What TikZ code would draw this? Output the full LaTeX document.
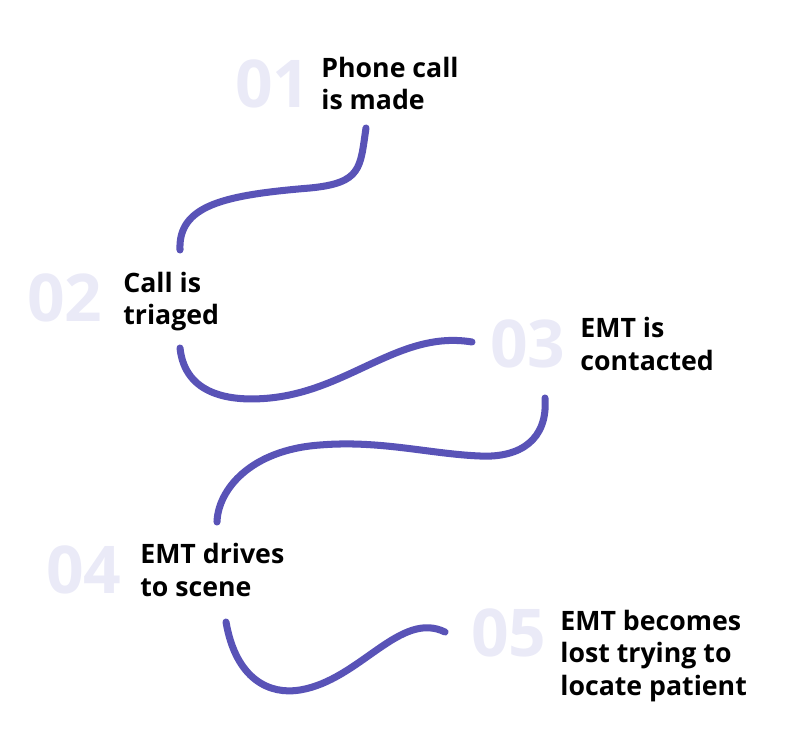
\documentclass[tikz,border=0pt]{standalone}
\usepackage{fontspec}
\setmainfont{Open Sans}
\usepackage{xcolor}
\usepackage{tikz}
\usetikzlibrary{positioning}
\definecolor{wave}{RGB}{89,83,183}
\definecolor{numpale}{RGB}{234,234,247}
\tikzset{
  stepnum/.style={font=\bfseries\fontsize{37.5}{37.5}\selectfont, text=numpale, inner sep=0pt, anchor=base west},
  steptext/.style={font=\bfseries\fontsize{15.2}{18.4}\selectfont, align=left, inner sep=0pt, anchor=base west},
  wavy/.style={draw=wave, line width=4pt, line cap=round}
}
\begin{document}
\begin{tikzpicture}[x=0.02cm, y=-0.02cm]
  \useasboundingbox (0,0) rectangle (800,756);
  % step numbers
  \node[stepnum] (n1) at (235,108) {01};
  \node[stepnum] (n2) at (27,322) {02};
  \node[stepnum] (n3) at (490,367) {03};
  \node[stepnum] (n4) at (46,593) {04};
  \node[stepnum] (n5) at (471,656) {05};
  % step texts (base = last line)
  \node[steptext] (t1) at (321,110) {Phone call\\is made};
  \node[steptext] (t2) at (123,325) {Call is\\triaged};
  \node[steptext] (t3) at (580,370) {EMT is\\contacted};
  \node[steptext] (t4) at (140,596) {EMT drives\\to scene};
  \node[steptext] (t5) at (560,695) {EMT becomes\\lost trying to\\locate patient};
  % wavy connectors
  \coordinate (a1) at (366,128);
  \coordinate (b1) at (180,250);
  \coordinate (a2) at (180,348);
  \coordinate (b2) at (472,342);
  \coordinate (a3) at (545,398);
  \coordinate (b3) at (217,522);
  \coordinate (a4) at (226,622);
  \coordinate (b4) at (445,632);
  \draw[wavy] (a1) .. controls (360,168) and (362,183) .. (310,188)
    .. controls (225,195) and (178,205) .. (b1);
  \draw[wavy] (a2) .. controls (185,395) and (230,402) .. (270,398)
    .. controls (350,390) and (400,330) .. (b2);
  \draw[wavy] (a3) .. controls (548,440) and (520,458) .. (480,456)
    .. controls (430,454) and (380,440) .. (320,445)
    .. controls (250,450) and (218,490) .. (b3);
  \draw[wavy] (a4) .. controls (236,680) and (270,695) .. (300,690)
    .. controls (360,680) and (400,610) .. (b4);
\end{tikzpicture}
\end{document}
